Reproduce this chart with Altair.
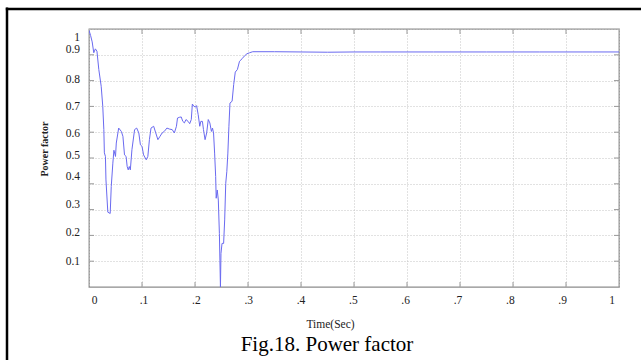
import altair as alt
import pandas as pd

# Time (s) and power factor
t_vals = [0.0, 0.003, 0.006, 0.009, 0.012, 0.015, 0.0185, 0.023, 0.026, 0.028, 0.029, 0.031,
          0.032, 0.0355, 0.040, 0.042, 0.045, 0.047, 0.050, 0.0515, 0.056, 0.061, 0.064,
          0.067, 0.070, 0.072, 0.074, 0.076, 0.078, 0.081, 0.086, 0.090, 0.094, 0.097,
          0.100, 0.103, 0.108, 0.111, 0.114, 0.117, 0.122, 0.126, 0.130, 0.134, 0.138,
          0.142, 0.147, 0.152, 0.157, 0.161, 0.165, 0.167, 0.171, 0.174, 0.177, 0.180,
          0.183, 0.187, 0.190, 0.193, 0.195, 0.198, 0.201, 0.203, 0.206, 0.209, 0.211,
          0.214, 0.216, 0.219, 0.222, 0.225, 0.228, 0.231, 0.233, 0.235, 0.237, 0.239,
          0.240, 0.242, 0.244, 0.246, 0.247, 0.248, 0.249, 0.251, 0.254, 0.256, 0.258,
          0.260, 0.262, 0.264, 0.266, 0.270, 0.273, 0.276, 0.280, 0.284, 0.289, 0.293,
          0.298, 0.303, 0.309, 0.35, 0.40, 0.45, 0.50, 0.55, 0.60, 0.65, 0.70, 0.75,
          0.80, 0.85, 0.90, 0.95, 1.0]
pf_vals = [0.995, 0.975, 0.95, 0.908, 0.923, 0.914, 0.843, 0.778, 0.70, 0.61, 0.52, 0.506,
           0.415, 0.29, 0.285, 0.39, 0.48, 0.53, 0.506, 0.558, 0.616, 0.603, 0.584,
           0.512, 0.506, 0.467, 0.454, 0.467, 0.454, 0.532, 0.61, 0.616, 0.597, 0.551,
           0.545, 0.512, 0.493, 0.506, 0.571, 0.616, 0.623, 0.597, 0.571, 0.584, 0.597,
           0.603, 0.616, 0.612, 0.61, 0.597, 0.623, 0.655, 0.658, 0.659, 0.642, 0.636,
           0.649, 0.642, 0.633, 0.649, 0.709, 0.70, 0.698, 0.703, 0.668, 0.623, 0.642,
           0.642, 0.61, 0.571, 0.597, 0.649, 0.636, 0.603, 0.616, 0.597, 0.519, 0.428,
           0.344, 0.376, 0.337, 0.208, 0.104, 0.0, 0.13, 0.169, 0.169, 0.26, 0.402,
           0.447, 0.519, 0.623, 0.713, 0.72, 0.785, 0.833, 0.843, 0.875, 0.885, 0.895,
           0.904, 0.908, 0.912, 0.912, 0.911, 0.910, 0.911, 0.911, 0.911, 0.911, 0.911, 0.911,
           0.911, 0.911, 0.911, 0.911, 0.911]

x_ticks = [0.1, 0.2, 0.3, 0.4, 0.5, 0.6, 0.7, 0.8, 0.9]
y_ticks = [0.1, 0.2, 0.3, 0.4, 0.5, 0.6, 0.7, 0.8, 0.9]
x_label_values = [0, 0.1, 0.2, 0.3, 0.4, 0.5, 0.6, 0.7, 0.8, 0.9, 1]
y_label_values = [0.1, 0.2, 0.3, 0.4, 0.5, 0.6, 0.7, 0.8, 0.9, 1]
x_title = "Time(Sec)"
y_title = "Power factor"
caption = "Fig.18. Power factor"

SERIF = "Liberation Serif"
W, H = 530, 258

df = pd.DataFrame({"t": t_vals, "pf": pf_vals})
xt = pd.DataFrame({"t": x_ticks})
yt = pd.DataFrame({"pf": y_ticks})
one = pd.DataFrame({"caption": [caption]})

xscale = alt.Scale(domain=[0, 1], nice=False, zero=False)
yscale = alt.Scale(domain=[0, 1], nice=False, zero=False)

y_off_expr = ("abs(datum.value-1)<0.001 ? 8.5 : abs(datum.value-0.9)<0.001 ? -5 : "
              "abs(datum.value-0.8)<0.001 ? -1 : abs(datum.value-0.6)<0.001 ? 1.5 : "
              "abs(datum.value-0.5)<0.001 ? -2.5 : abs(datum.value-0.4)<0.001 ? -7 : "
              "abs(datum.value-0.3)<0.001 ? -5 : abs(datum.value-0.2)<0.001 ? -2.5 : 0")
x_off_expr = "2.2 - 6.7 * datum.value"

x_axis = alt.Axis(
    values=x_label_values,
    labelExpr="datum.value == 0 ? '0' : datum.value == 1 ? '1' : replace(format(datum.value, '.1f'), '0.', '.')",
    title=x_title, titleFont=SERIF, titleFontSize=11.5, titleFontWeight="normal",
    titleX=241, titleY=40, titleBaseline="alphabetic", titleAlign="center", titleColor="#222",
    labelFont=SERIF, labelFontSize=11.5, labelColor="#222", labelPadding=7,
    labelOffset={"expr": x_off_expr},
    ticks=False, tickSize=0, domain=False,
    grid=True, gridDash=[1, 2], gridColor="#c4c4c4", gridWidth=1,
)
y_axis = alt.Axis(
    values=y_label_values,
    labelExpr="datum.value == 1 ? '1' : format(datum.value, '.1f')",
    title=y_title, titleFont=SERIF, titleFontSize=10, titleFontWeight="bold",
    titleX=-42, titleY=119.5, titleBaseline="alphabetic", titleAlign="center", titleColor="#222",
    labelFont=SERIF, labelFontSize=11.5, labelColor="#222", labelPadding=9.5,
    labelOffset={"expr": y_off_expr}, labelBaseline="middle",
    ticks=False, tickSize=0, domain=False,
    grid=True, gridDash=[1, 2], gridColor="#c4c4c4", gridWidth=1,
)

line = alt.Chart(df).mark_line(color="#6a6af0", strokeWidth=1, clip=True).encode(
    x=alt.X("t:Q", scale=xscale, axis=x_axis),
    y=alt.Y("pf:Q", scale=yscale, axis=y_axis),
)

tick_color = "#999999"
bottom_ticks = alt.Chart(xt).mark_rule(color=tick_color, strokeWidth=1).encode(
    x=alt.X("t:Q", scale=xscale, axis=x_axis), y=alt.value(H), y2=alt.value(H - 5))
top_ticks = alt.Chart(xt).mark_rule(color=tick_color, strokeWidth=1).encode(
    x=alt.X("t:Q", scale=xscale, axis=x_axis), y=alt.value(0), y2=alt.value(5))
left_ticks = alt.Chart(yt).mark_rule(color=tick_color, strokeWidth=1).encode(
    y=alt.Y("pf:Q", scale=yscale, axis=y_axis), x=alt.value(0), x2=alt.value(5))
right_ticks = alt.Chart(yt).mark_rule(color=tick_color, strokeWidth=1).encode(
    y=alt.Y("pf:Q", scale=yscale, axis=y_axis), x=alt.value(W), x2=alt.value(W - 5))

# outer black frame (left and top)
frame_left = alt.Chart(one).mark_rule(color="black", strokeWidth=2.5).encode(
    x=alt.value(-82), y=alt.value(-21.5), y2=alt.value(331))
frame_top = alt.Chart(one).mark_rule(color="black", strokeWidth=2.5).encode(
    y=alt.value(-20), x=alt.value(-83.2), x2=alt.value(552))

cap = alt.Chart(one).mark_text(font=SERIF, fontSize=21, color="black", align="center",
                               baseline="alphabetic").encode(
    text="caption:N", x=alt.value(238), y=alt.value(322))

chart = alt.layer(line, bottom_ticks, top_ticks, left_ticks, right_ticks,
                  frame_left, frame_top, cap).properties(
    width=W, height=H,
    autosize=alt.AutoSizeParams(type="none"),
    padding={"left": 89, "top": 29, "right": 22, "bottom": 73},
    background="white",
).configure_view(stroke="#8c8c8c", strokeWidth=1.3)

chart.save("out.html", embed_options={"renderer": "svg", "actions": False})
